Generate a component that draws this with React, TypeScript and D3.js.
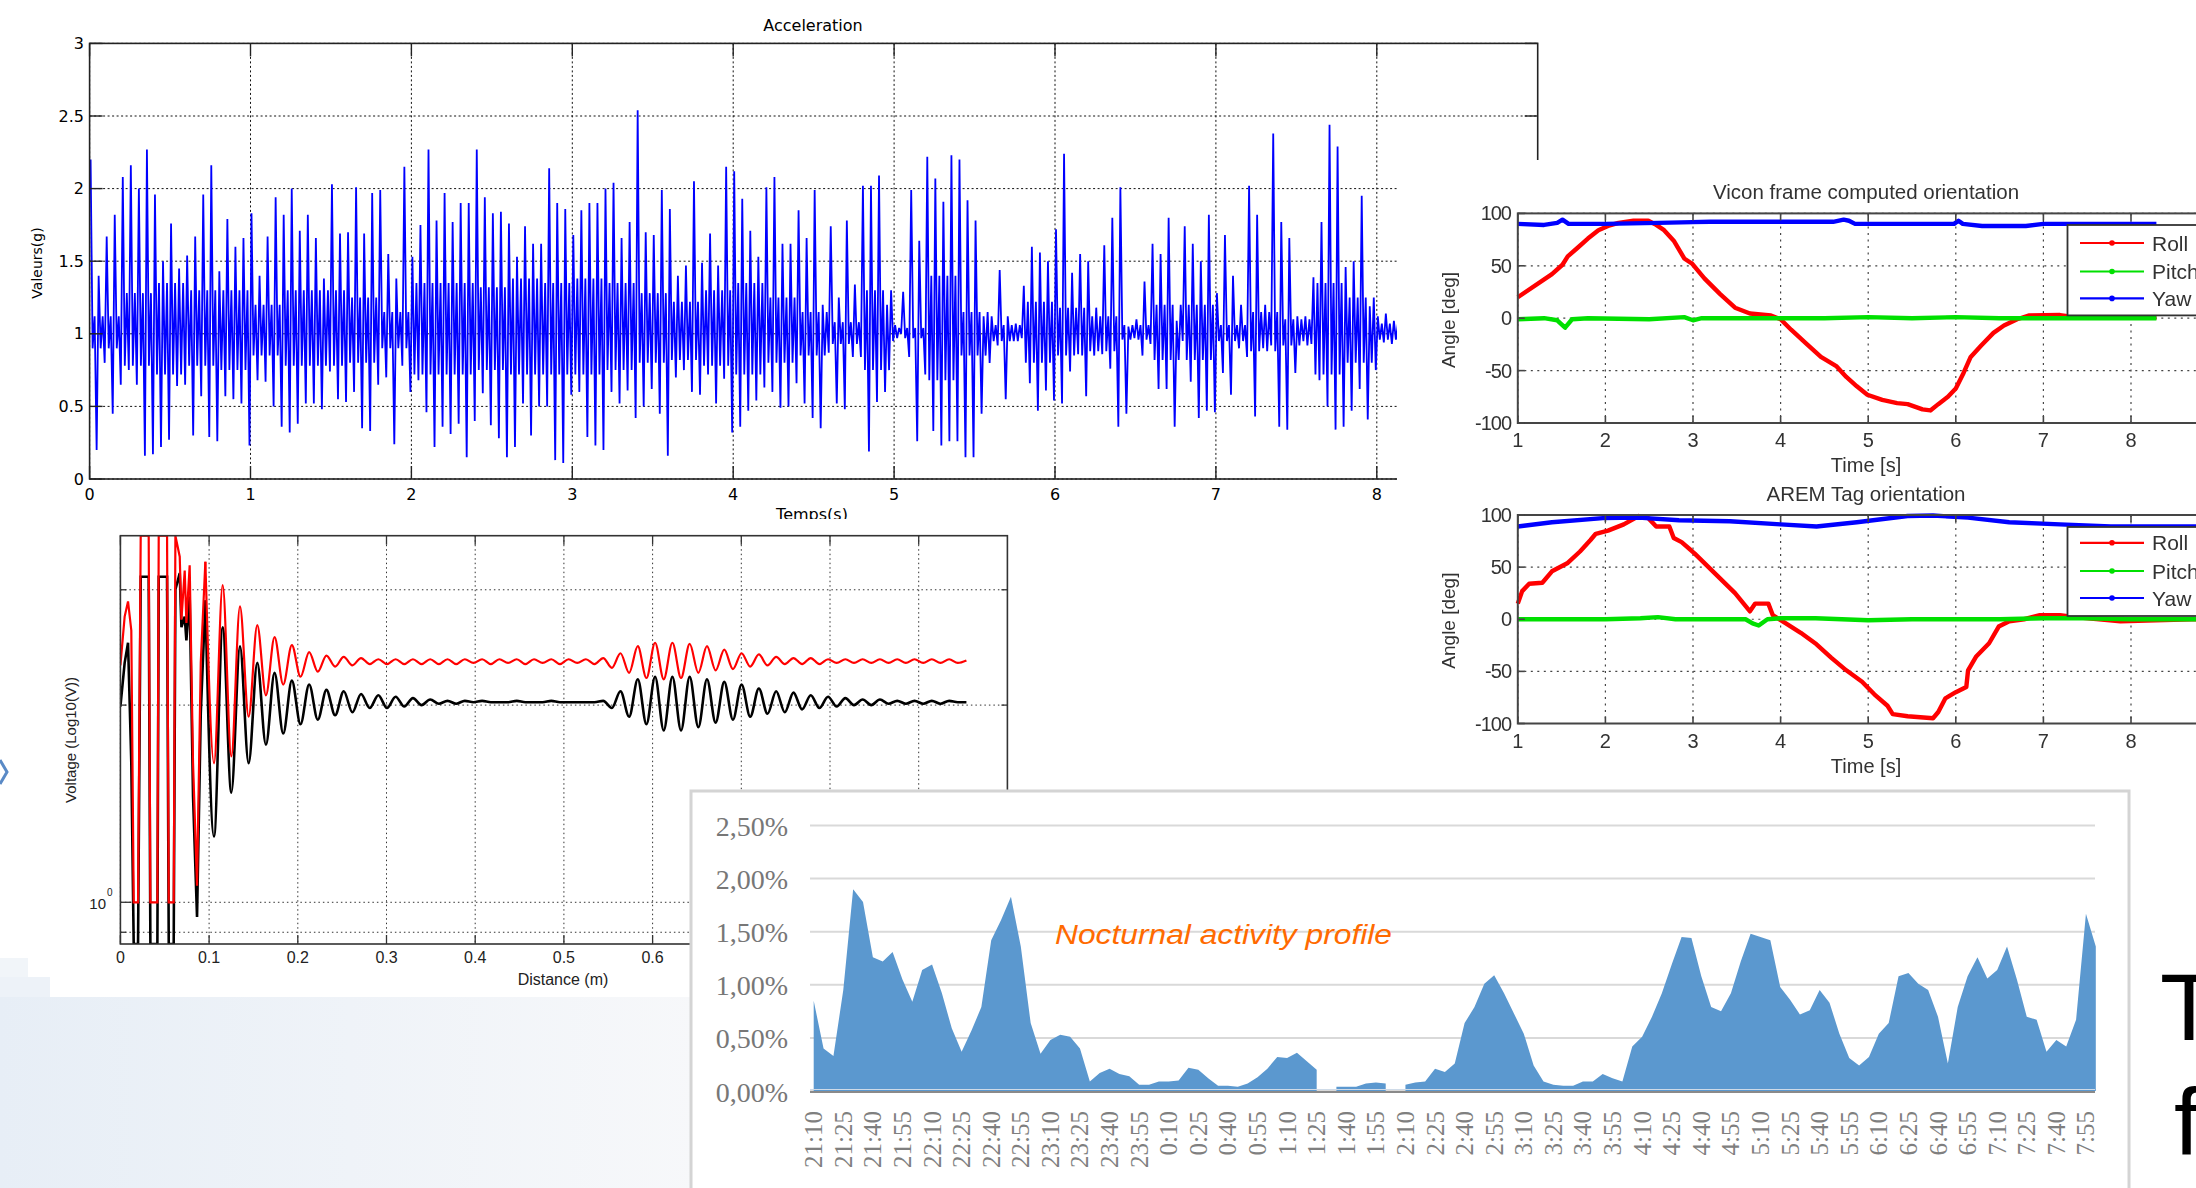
import React from "react";
import * as d3 from "d3";

const W = 2196;
const H = 1188;
const SANS = "'Liberation Sans', Arial, sans-serif";
const NARROW = "'Liberation Sans Narrow', 'Liberation Sans', Arial, sans-serif";
const DEJAVU = "'DejaVu Sans', Verdana, sans-serif";
const SERIF = "'Liberation Serif', 'Times New Roman', serif";

// ---------------- Acceleration (envelope per 0.05 s bin) ----------------
const accelBin = 0.05;
const accelHi = [2.20,1.40,1.67,1.82,2.08,2.16,2.00,2.27,1.96,1.50, 1.76,1.45,1.54,1.67,1.96,2.16,1.43,1.79,1.60,1.66,
  1.83,1.40,1.67,1.94,1.82,2.00,1.71,1.82,1.66,1.38, 2.03,1.69,1.70,2.01,1.69,1.97,1.99,1.55,1.38,2.15,
  1.53,1.75,2.27,1.78,1.97,1.77,1.90,1.90,2.27,1.94, 1.83,1.84,1.76,1.53,1.74,1.62,1.62,2.14,1.90,1.86,
  1.68,1.85,1.90,1.90,2.00,2.04,1.66,1.77,2.54,1.70, 1.68,1.99,1.86,1.40,1.47,2.05,1.49,1.69,1.47,2.15,
  2.12,1.93,1.71,1.53,2.01,2.08,1.62,1.62,1.85,1.66, 1.99,1.20,1.74,1.25,1.78,1.34,2.02,2.02,2.09,1.20,
  1.06,1.29,1.99,1.64,2.22,2.07,1.91,2.23,2.20,1.92, 1.78,1.12,1.12,1.44,1.12,1.07,1.33,1.60,1.56,1.50,
  1.72,2.24,1.42,1.55,1.50,1.18,1.61,1.80,2.01,1.05, 1.10,1.36,1.62,1.55,1.80,1.09,1.74,1.62,1.50,1.82,
  1.28,1.68,1.40,1.20,2.02,1.82,1.20,2.38,1.77,1.66, 1.12,1.12,1.39,1.77,2.44,2.29,1.46,1.50,1.95,1.19,
  1.12,1.14,1.09];
const accelLo = [0.20,0.80,0.45,0.65,0.75,0.65,0.16,0.17,0.22,0.27, 0.64,0.65,0.30,0.57,0.29,0.26,0.57,0.55,0.52,0.23,
  0.68,0.67,0.50,0.36,0.32,0.38,0.52,0.52,0.48,0.74, 0.55,0.53,0.60,0.35,0.33,0.65,0.70,0.24,0.78,0.60,
  0.68,0.46,0.22,0.36,0.31,0.38,0.15,0.40,0.59,0.37, 0.28,0.15,0.22,0.52,0.30,0.50,0.50,0.13,0.11,0.58,
  0.60,0.29,0.23,0.20,0.60,0.52,0.61,0.42,0.50,0.62, 0.45,0.16,0.70,0.75,0.60,0.58,0.72,0.52,0.69,0.32,
  0.36,0.47,0.54,0.63,0.60,0.49,0.50,0.66,0.52,0.42, 0.35,0.87,0.52,0.48,0.84,0.84,0.19,0.53,0.60,0.95,
  1.00,0.84,0.26,0.72,0.33,0.23,0.26,0.26,0.15,0.15, 0.45,0.80,0.92,0.55,0.95,0.97,0.66,0.47,0.61,0.54,
  0.52,0.74,0.86,0.57,0.85,0.86,0.76,0.36,0.45,0.97, 0.85,0.93,0.62,0.62,0.36,0.95,0.67,0.42,0.47,0.46,
  0.73,0.58,0.90,0.84,0.43,0.90,0.92,0.36,0.34,0.73, 0.95,0.93,0.68,0.50,0.34,0.36,0.47,0.62,0.41,0.75,
  0.94,0.93,0.96];
// dense core band of the signal, per 0.2 s segment
const accelCoreStep = 0.2;
const accelCoreHi = [1.12,1.28,1.35,1.30,1.30,1.20,1.30,1.30,1.25,1.15, 1.35,1.35,1.32,1.38,1.35,1.38,1.35,1.28,1.22,1.30,
  1.35,1.25,1.15,1.08,1.30,1.04,1.40,1.15,1.06,1.22, 1.18,1.12,1.06,1.20,1.20,1.06,1.15,1.10,1.35,1.25, 1.07];
const accelCoreLo = [0.90,0.78,0.72,0.78,0.75,0.85,0.78,0.78,0.80,0.90, 0.72,0.72,0.75,0.72,0.72,0.72,0.75,0.80,0.82,0.78,
  0.72,0.80,0.85,0.93,0.75,0.97,0.68,0.85,0.95,0.80, 0.85,0.88,0.96,0.82,0.82,0.95,0.88,0.92,0.72,0.80, 0.96];
const accelXTicks = [0, 1, 2, 3, 4, 5, 6, 7, 8];
const accelYTicks = [0, 0.5, 1, 1.5, 2, 2.5, 3];

// ---------------- Voltage (log scale) ----------------
const voltXTicks = [0, 0.1, 0.2, 0.3, 0.4, 0.5, 0.6, 0.7, 0.8, 0.9];
const voltGridY = [0.9, 1, 2, 3];
const voltEarlyD = [0, 0.0048, 0.0086, 0.0123, 0.015, 0.0199, 0.0229, 0.0319, 0.0338, 0.0417, 0.0432, 0.0526,
  0.0545, 0.0601, 0.062, 0.0669, 0.0688, 0.0725, 0.0744, 0.0781, 0.0819, 0.0864, 0.0906, 0.0958];
const voltEarlyRed = [2.30, 2.73, 2.88, 2.60, 1.0, 1.0, 3.63, 3.63, 1.0, 1.0, 3.63, 3.63,
  1.0, 1.0, 3.63, 3.37, 2.70, 3.21, 2.67, 3.27, 1.63, 1.06, 2.32, 3.31];
const voltEarlyBlack = [1.99, 2.32, 2.49, 1.63, 0.85, 0.85, 3.14, 3.14, 0.85, 0.85, 3.14, 3.14,
  0.85, 0.85, 3.00, 3.18, 2.63, 2.73, 2.51, 2.93, 1.45, 0.95, 1.94, 2.89];
const voltStart = 0.0958;
const voltHalfPeriod = 0.00975;
const voltRed = [3.31, 1.63, 3.05, 1.67, 2.83, 1.92, 2.65, 2.07, 2.54, 2.15, 2.47, 2.21, 2.41, 2.25, 2.38, 2.29,
  2.37, 2.30, 2.36, 2.31, 2.35, 2.31, 2.35, 2.31, 2.35, 2.31, 2.35, 2.31,
  2.35, 2.31, 2.35, 2.32, 2.35, 2.31, 2.35, 2.32, 2.35, 2.31, 2.35, 2.32, 2.35, 2.31, 2.35, 2.32, 2.35, 2.31,
  2.36, 2.28,
  2.40, 2.24, 2.46, 2.20, 2.49, 2.19, 2.49, 2.20, 2.48, 2.24, 2.46, 2.26, 2.43, 2.27, 2.40, 2.29, 2.39, 2.30,
  2.37, 2.31, 2.36, 2.31, 2.36, 2.31, 2.35, 2.32,
  2.35, 2.32, 2.35, 2.32, 2.35, 2.32, 2.35, 2.32, 2.35, 2.32, 2.35, 2.32, 2.35, 2.32, 2.34];
const voltBlack = [2.89, 1.26, 2.63, 1.47, 2.46, 1.63, 2.32, 1.74, 2.24, 1.81, 2.18, 1.87, 2.15, 1.90, 2.11, 1.93,
  2.10, 1.95, 2.08, 1.98, 2.07, 1.98, 2.06, 1.99, 2.05, 2.00, 2.04, 2.01,
  2.03, 2.01, 2.03, 2.02, 2.03, 2.02, 2.02, 2.02, 2.03, 2.02, 2.02, 2.02, 2.03, 2.02, 2.02, 2.02, 2.02, 2.02,
  2.03, 1.98,
  2.10, 1.92, 2.19, 1.87, 2.21, 1.83, 2.21, 1.83, 2.21, 1.85, 2.19, 1.88, 2.17, 1.90, 2.15, 1.92, 2.12, 1.94,
  2.10, 1.95, 2.09, 1.97, 2.07, 1.98, 2.06, 1.99,
  2.05, 2.00, 2.04, 2.00, 2.04, 2.01, 2.03, 2.01, 2.03, 2.01, 2.03, 2.01, 2.03, 2.02, 2.02];

// ---------------- Orientation (Vicon / AREM) ----------------
const angleXTicks = [1, 2, 3, 4, 5, 6, 7, 8];
const angleYTicks = [-100, -50, 0, 50, 100];
const viconRollT = [1.00,1.39,1.51,1.57,1.68,1.80,1.92,2.03,2.15,2.32,2.49,2.58,2.67,2.78,2.90,2.99,3.13,3.31,3.48,3.65,
  3.89,4.00,4.12,4.29,4.46,4.64,4.75,4.87,4.99,5.16,5.33,5.45,5.62,5.71,5.80,5.91,6.00,6.09,6.17,6.29,6.43,6.55,6.70,6.84,7.19,7.40,8.29];
const viconRollV = [20,42,51,59,67,76,84,88,91,93,93,89,84,74,57,52,38,23,10,4.5,
  2.6,-1,-11,-24,-37,-46,-56,-65,-73,-78,-81,-82,-87,-88,-82,-75,-67,-52,-37,-26,-14,-7,-1,2.6,3,0.5,0.5];
const viconPitchT = [1.0,1.3,1.45,1.54,1.62,1.8,2.5,2.9,3.0,3.1,3.5,4.0,4.5,5.0,5.5,6.0,6.5,7.0,7.5,8.0,8.29];
const viconPitchV = [-1,0,-2,-9,-1,0,-1,1,-2,0,0,0,0,1,0,1,0,0,0,0,0];
const viconYawT = [1.0,1.3,1.45,1.51,1.58,2.0,2.6,3.2,4.0,4.6,4.72,4.78,4.85,5.5,5.98,6.03,6.08,6.3,6.8,7.0,7.5,8.29];
const viconYawV = [90,89,91,94,90,90,91,92,92,92,94,93,90,90,90,93,90,88,88,90,90,90];
const aremRollT = [1.00,1.05,1.13,1.28,1.39,1.57,1.71,1.83,1.89,2.03,2.21,2.38,2.49,2.58,2.73,2.78,2.87,3.02,3.25,3.48,
  3.65,3.71,3.86,3.91,4.06,4.23,4.41,4.58,4.75,4.93,5.07,5.22,5.28,5.45,5.74,5.80,5.88,6.00,6.12,6.14,
  6.23,6.38,6.49,6.61,6.78,6.96,7.19,7.36,7.88,8.69,9.0];
const aremRollV = [15,27,34,35,46,54,65,76,82,85,91,99,97,89,89,78,74,63,44,25,
  7.6,15,15,4,-4,-13,-24,-37,-49,-60,-72,-83,-91,-93,-95,-89,-76,-70,-65,-49,
  -36,-23,-7,-2,0,4,4,2,-2,0,0];
const aremPitchT = [1.0,1.5,2.0,2.4,2.6,2.8,3.2,3.6,3.68,3.75,3.85,4.0,4.4,5.0,5.5,6.0,6.5,7.0,7.5,8.0,9.0];
const aremPitchV = [0,0,0,1,2,0,0,0,-4,-6,0,1,1,-1,0,0,0,1,1,0,0];
const aremYawT = [1.0,1.39,1.97,2.38,2.84,3.42,4.0,4.41,4.87,5.45,5.74,6.14,6.61,7.19,7.77,8.69,9.0];
const aremYawV = [89,93,97,97.5,95,94,91,89,93,99,99.5,97.5,93,91,89,89,89];
const legendNames = ["Roll", "Pitch", "Yaw"];
const seriesColors = ["#ff0000", "#00e000", "#0000ff"];

// ---------------- Nocturnal activity profile (%) every 5 min from 21:10 ----------------
const noctValues: (number | null)[] = [0.85,0.40,0.33,0.95,1.90,1.78,1.26,1.22,1.31,1.05,
  0.84,1.14,1.19,0.92,0.59,0.37,0.57,0.79,1.42,1.61,
  1.83,1.36,0.64,0.35,0.48,0.53,0.51,0.40,0.09,0.17,
  0.21,0.16,0.14,0.06,0.06,0.09,0.09,0.10,0.22,0.20,
  0.12,0.05,0.05,0.04,0.07,0.13,0.21,0.32,0.31,0.36,
  0.28,0.20,null,0.04,0.04,0.04,0.07,0.08,0.07,null,
  0.06,0.08,0.09,0.21,0.18,0.26,0.64,0.79,1.01,1.09,
  0.92,0.73,0.54,0.24,0.09,0.06,0.05,0.05,0.09,0.09,
  0.16,0.12,0.09,0.42,0.51,0.70,0.92,1.19,1.45,1.44,
  1.08,0.79,0.75,0.92,1.22,1.48,1.45,1.42,0.98,0.86,
  0.72,0.76,0.95,0.83,0.54,0.31,0.24,0.32,0.54,0.64,
  1.08,1.11,1.01,0.95,0.70,0.26,0.79,1.08,1.26,1.06,
  1.14,1.36,1.05,0.70,0.67,0.37,0.48,0.42,0.67,1.67,
  1.36];
const noctLabels = ["21:10","21:25","21:40","21:55","22:10","22:25","22:40","22:55","23:10","23:25","23:40","23:55",
  "0:10","0:25","0:40","0:55","1:10","1:25","1:40","1:55","2:10","2:25","2:40","2:55","3:10","3:25","3:40","3:55",
  "4:10","4:25","4:40","4:55","5:10","5:25","5:40","5:55","6:10","6:25","6:40","6:55","7:10","7:25","7:40","7:55"];
const noctLabelStep = 3;
const noctYTicks = [0, 0.5, 1, 1.5, 2, 2.5];

// =====================================================================
function AccelChart() {
  const x = d3.scaleLinear().domain([0, 9]).range([89.6, 1537.7]);
  const y = d3.scaleLinear().domain([0, 3]).range([479, 43.4]);
  // each 0.05 s bin: peak, dense-band bottom, dense-band top, trough
  const pts: [number, number][] = [];
  accelHi.forEach((h, i) => {
    const t = i * accelBin;
    const c = Math.floor((t + 1e-9) / accelCoreStep);
    pts.push([t + accelBin * 0.125, h]);
    pts.push([t + accelBin * 0.375, accelCoreLo[c]]);
    pts.push([t + accelBin * 0.625, accelCoreHi[c]]);
    pts.push([t + accelBin * 0.875, accelLo[i]]);
  });
  const line = d3.line<[number, number]>().x((d) => x(d[0])).y((d) => y(d[1]));
  const [x0, x1] = x.range();
  const [yb, yt] = y.range();
  return (
    <g>
      {accelXTicks.map((t) => (
        <line key={"gx" + t} x1={x(t)} x2={x(t)} y1={yt} y2={yb} stroke="#111" strokeWidth={1} strokeDasharray="2,2.5" />
      ))}
      {accelYTicks.map((t) => (
        <line key={"gy" + t} x1={x0} x2={x1} y1={y(t)} y2={y(t)} stroke="#111" strokeWidth={1} strokeDasharray="2,2.5" />
      ))}
      <path d={line(pts) || ""} fill="none" stroke="#0000ff" strokeWidth={1.8} strokeLinejoin="miter" strokeMiterlimit={2} />
      <rect x={x0} y={yt} width={x1 - x0} height={yb - yt} fill="none" stroke="#222" strokeWidth={1.6} />
      {accelXTicks.map((t) => (
        <g key={"tx" + t}>
          <line x1={x(t)} x2={x(t)} y1={yb} y2={yb - 13} stroke="#222" strokeWidth={1.4} />
          <line x1={x(t)} x2={x(t)} y1={yt} y2={yt + 13} stroke="#222" strokeWidth={1.4} />
          <text x={x(t)} y={494} textAnchor="middle" dominantBaseline="central" fontFamily={DEJAVU} fontSize={16} fill="#000">{t}</text>
        </g>
      ))}
      {accelYTicks.map((t) => (
        <g key={"ty" + t}>
          <line x1={x0} x2={x0 + 13} y1={y(t)} y2={y(t)} stroke="#222" strokeWidth={1.4} />
          <line x1={x1} x2={x1 - 13} y1={y(t)} y2={y(t)} stroke="#222" strokeWidth={1.4} />
          <text x={84} y={y(t)} textAnchor="end" dominantBaseline="central" fontFamily={DEJAVU} fontSize={16} fill="#000">{t}</text>
        </g>
      ))}
      <text x={813} y={25} textAnchor="middle" dominantBaseline="central" fontFamily={DEJAVU} fontSize={16} fill="#000">Acceleration</text>
      <text x={812} y={514} textAnchor="middle" dominantBaseline="central" fontFamily={DEJAVU} fontSize={16} fill="#000">Temps(s)</text>
      <text transform="translate(37,263) rotate(-90)" textAnchor="middle" dominantBaseline="central" fontFamily={DEJAVU} fontSize={14} fill="#000">Valeurs(g)</text>
    </g>
  );
}

function VoltageChart() {
  const x = d3.scaleLinear().domain([0, 1]).range([120.4, 1007.4]);
  const y = d3.scaleLog().domain([0.8636, 3.628]).range([944, 535.7]);
  const [x0, x1] = x.range();
  const [yb, yt] = y.range();
  const clamp = (v: number) => Math.max(0.8636, Math.min(3.628, v));
  const early = voltEarlyD.map((d, i) => [d, voltEarlyRed[i], voltEarlyBlack[i]]);
  const lineLin = (k: number) =>
    d3.line<number[]>().x((d) => x(d[0])).y((d) => y(clamp(d[k])))(early) || "";
  const main = (arr: number[]) =>
    d3.line<number>().x((_, i) => x(voltStart + i * voltHalfPeriod)).y((v) => y(clamp(v))).curve(d3.curveMonotoneX)(arr) || "";
  return (
    <g>
      <rect x={50} y={519} width={1347} height={478} fill="#fff" />
      <defs>
        <clipPath id="voltClip">
          <rect x={x0} y={yt} width={x1 - x0} height={yb - yt} />
        </clipPath>
      </defs>
      {voltXTicks.map((t) => (
        <line key={"vx" + t} x1={x(t)} x2={x(t)} y1={yt} y2={yb} stroke="#333" strokeWidth={1} strokeDasharray="1.5,3" />
      ))}
      {voltGridY.map((t) => (
        <line key={"vy" + t} x1={x0} x2={x1} y1={y(t)} y2={y(t)} stroke="#333" strokeWidth={1} strokeDasharray="1.5,3" />
      ))}
      <g clipPath="url(#voltClip)">
        <path d={lineLin(2)} fill="none" stroke="#000" strokeWidth={2.6} />
        <path d={main(voltBlack)} fill="none" stroke="#000" strokeWidth={2.6} />
        <path d={lineLin(1)} fill="none" stroke="#ff0000" strokeWidth={2.2} />
        <path d={main(voltRed)} fill="none" stroke="#ff0000" strokeWidth={2.2} />
      </g>
      <rect x={x0} y={yt} width={x1 - x0} height={yb - yt} fill="none" stroke="#333" strokeWidth={1.6} />
      {voltXTicks.map((t) => (
        <g key={"vtx" + t}>
          <line x1={x(t)} x2={x(t)} y1={yb} y2={yb - 9} stroke="#333" strokeWidth={1.3} />
          <line x1={x(t)} x2={x(t)} y1={yt} y2={yt + 9} stroke="#333" strokeWidth={1.3} />
          <text x={x(t)} y={957} textAnchor="middle" dominantBaseline="central" fontFamily={NARROW} fontSize={16} fill="#222">{String(t)}</text>
        </g>
      ))}
      {voltGridY.map((t) => (
        <g key={"vty" + t}>
          <line x1={x0} x2={x0 + (t === 1 ? 11 : 6)} y1={y(t)} y2={y(t)} stroke="#333" strokeWidth={1.3} />
          <line x1={x1} x2={x1 - (t === 1 ? 11 : 6)} y1={y(t)} y2={y(t)} stroke="#333" strokeWidth={1.3} />
        </g>
      ))}
      <text x={106} y={y(1) + 1} textAnchor="end" dominantBaseline="central" fontFamily={NARROW} fontSize={15} fill="#222">10</text>
      <text x={107} y={y(1) - 10} textAnchor="start" dominantBaseline="central" fontFamily={NARROW} fontSize={10} fill="#222">0</text>
      <text x={563} y={979} textAnchor="middle" dominantBaseline="central" fontFamily={NARROW} fontSize={16} fill="#222">Distance (m)</text>
      <text transform="translate(70,740) rotate(-90)" textAnchor="middle" dominantBaseline="central" fontFamily={SANS} fontSize={15} fill="#222">Voltage (Log10(V))</text>
    </g>
  );
}

type Series = { t: number[]; v: number[] };

function AnglePanel({ top, bottom, title, titleY, labelY, timeY, series, legendTop, legendBottom, legendYs }: {
  top: number; bottom: number; title: string; titleY: number; labelY: number; timeY: number;
  series: Series[]; legendTop: number; legendBottom: number; legendYs: number[];
}) {
  const x = d3.scaleLinear().domain([1, 9]).range([1517.8, 2218.6]);
  const y = d3.scaleLinear().domain([-100, 100]).range([bottom, top]);
  const [x0, x1] = x.range();
  return (
    <g>
      {angleXTicks.map((t) => (
        <line key={"ax" + t} x1={x(t)} x2={x(t)} y1={top} y2={bottom} stroke="#444" strokeWidth={1.2} strokeDasharray="2,4.5" />
      ))}
      {angleYTicks.map((t) => (
        <line key={"ay" + t} x1={x0} x2={x1} y1={y(t)} y2={y(t)} stroke="#444" strokeWidth={1.2} strokeDasharray="2,4.5" />
      ))}
      {series.map((s, k) => {
        const p = d3.line<number>().x((_, i) => x(s.t[i])).y((v) => y(v))(s.v) || "";
        return <path key={"s" + k} d={p} fill="none" stroke={seriesColors[k]} strokeWidth={4.4} strokeLinejoin="round" />;
      })}
      <rect x={x0} y={top} width={x1 - x0} height={bottom - top} fill="none" stroke="#444" strokeWidth={2} />
      {angleXTicks.map((t) => (
        <g key={"atx" + t}>
          <line x1={x(t)} x2={x(t)} y1={bottom} y2={bottom - 7} stroke="#444" strokeWidth={1.6} />
          <line x1={x(t)} x2={x(t)} y1={top} y2={top + 7} stroke="#444" strokeWidth={1.6} />
          <text x={x(t)} y={bottom + 17} textAnchor="middle" dominantBaseline="central" fontFamily={SANS} fontSize={20} fill="#333">{t}</text>
        </g>
      ))}
      {angleYTicks.map((t) => (
        <g key={"aty" + t}>
          <line x1={x0} x2={x0 + 7} y1={y(t)} y2={y(t)} stroke="#444" strokeWidth={1.6} />
          <text x={1511} y={y(t)} textAnchor="end" dominantBaseline="central" fontFamily={SANS} fontSize={20} fill="#333" letterSpacing={-1}>{t}</text>
        </g>
      ))}
      <text x={1866} y={titleY} textAnchor="middle" dominantBaseline="central" fontFamily={SANS} fontSize={20.5} fill="#333">{title}</text>
      <text x={1866} y={timeY} textAnchor="middle" dominantBaseline="central" fontFamily={SANS} fontSize={20} fill="#333">Time [s]</text>
      <text transform={`translate(1448,${labelY}) rotate(-90)`} textAnchor="middle" dominantBaseline="central" fontFamily={SANS} fontSize={19} fill="#333">Angle [deg]</text>
      <rect x={2067.5} y={legendTop} width={160} height={legendBottom - legendTop} fill="#fff" stroke="#333" strokeWidth={1.8} />
      {legendNames.map((n, k) => (
        <g key={n}>
          <line x1={2080} x2={2144} y1={legendYs[k]} y2={legendYs[k]} stroke={seriesColors[k]} strokeWidth={2.2} />
          <circle cx={2112} cy={legendYs[k]} r={2.8} fill={seriesColors[k]} />
          <text x={2152} y={legendYs[k]} dominantBaseline="central" fontFamily={SANS} fontSize={21} fill="#333">{n}</text>
        </g>
      ))}
    </g>
  );
}

function OrientationPanels() {
  return (
    <g>
      <rect x={1397} y={160} width={W - 1397} height={630} fill="#fff" />
      <g filter="url(#soft)">
        <AnglePanel top={213.4} bottom={423} title="Vicon frame computed orientation" titleY={191.5} labelY={320}
          timeY={465} legendTop={225} legendBottom={315.4} legendYs={[243, 271.5, 298.4]}
          series={[{ t: viconRollT, v: viconRollV }, { t: viconPitchT, v: viconPitchV }, { t: viconYawT, v: viconYawV }]} />
        <AnglePanel top={515} bottom={723.5} title="AREM Tag orientation" titleY={493} labelY={620.6}
          timeY={766} legendTop={527} legendBottom={616} legendYs={[542.8, 571, 598]}
          series={[{ t: aremRollT, v: aremRollV }, { t: aremPitchT, v: aremPitchV }, { t: aremYawT, v: aremYawV }]} />
      </g>
    </g>
  );
}

function NocturnalChart() {
  const x = d3.scaleLinear().domain([0, noctValues.length - 1]).range([813.7, 2095.8]);
  const y = d3.scaleLinear().domain([0, 2.5]).range([1091, 825.5]);
  const area = d3.area<number | null>()
    .defined((v) => v !== null)
    .x((_, i) => x(i))
    .y0(y(0))
    .y1((v) => y(v as number));
  return (
    <g>
      <rect x={691} y={791} width={1438} height={420} fill="#fff" stroke="#d4d4d4" strokeWidth={3} />
      {noctYTicks.map((t) => (
        <g key={"ny" + t}>
          <line x1={810} x2={2095} y1={y(t)} y2={y(t)} stroke="#d9d9d9" strokeWidth={2} />
          <text x={788} y={y(t) + 1} textAnchor="end" dominantBaseline="central" fontFamily={SERIF} fontSize={28} fill="#777">
            {t.toFixed(2).replace(".", ",") + "%"}
          </text>
        </g>
      ))}
      <path d={area(noctValues) || ""} fill="#5b98cf" />
      <line x1={810} x2={2095} y1={y(0) + 1} y2={y(0) + 1} stroke="#8a8a8a" strokeWidth={2} />
      <line x1={810} x2={2095} y1={y(0) - 1.5} y2={y(0) - 1.5} stroke="#cfdbe8" strokeWidth={1} />
      {noctLabels.map((l, j) => (
        <text key={l} transform={`translate(${x(j * noctLabelStep)},1111) rotate(-90)`} textAnchor="end" dominantBaseline="central"
          fontFamily={SERIF} fontSize={25} fill="#7f7f7f">{l}</text>
      ))}
      <text x={1055} y={944} fontFamily={SANS} fontStyle="italic" fontSize={28} fill="#ff6a00" textLength={337} lengthAdjust="spacingAndGlyphs">
        Nocturnal activity profile
      </text>
    </g>
  );
}

function SlideBackground() {
  return (
    <g>
      <defs>
        <linearGradient id="slideGrad" x1="0" x2="1" y1="0" y2="0">
          <stop offset="0" stopColor="#e7eef6" />
          <stop offset="1" stopColor="#f7f8fa" />
        </linearGradient>
      </defs>
      <rect x={0} y={997} width={700} height={191} fill="url(#slideGrad)" />
      <rect x={0} y={977} width={50} height={20} fill="#edf2f8" />
      <rect x={0} y={958} width={28} height={19} fill="#f1f5f9" />
      <polyline points="0,760 7,772 0,784" fill="none" stroke="#5a8ac6" strokeWidth={3} />
    </g>
  );
}

export default function App() {
  return (
    <svg width={W} height={H} viewBox={`0 0 ${W} ${H}`} style={{ position: "absolute", left: 0, top: 0, display: "block", background: "#fff" }}>
      <defs>
        <filter id="soft" x="-5%" y="-5%" width="110%" height="110%">
          <feGaussianBlur stdDeviation="0.55" />
        </filter>
      </defs>
      <rect x={0} y={0} width={W} height={H} fill="#fff" />
      <SlideBackground />
      <AccelChart />
      <VoltageChart />
      <OrientationPanels />
      <NocturnalChart />
      <text x={2160} y={1040} fontFamily={SANS} fontSize={95} fill="#000">T</text>
      <text x={2174} y={1155} fontFamily={SANS} fontSize={95} fill="#000">fi</text>
    </svg>
  );
}
